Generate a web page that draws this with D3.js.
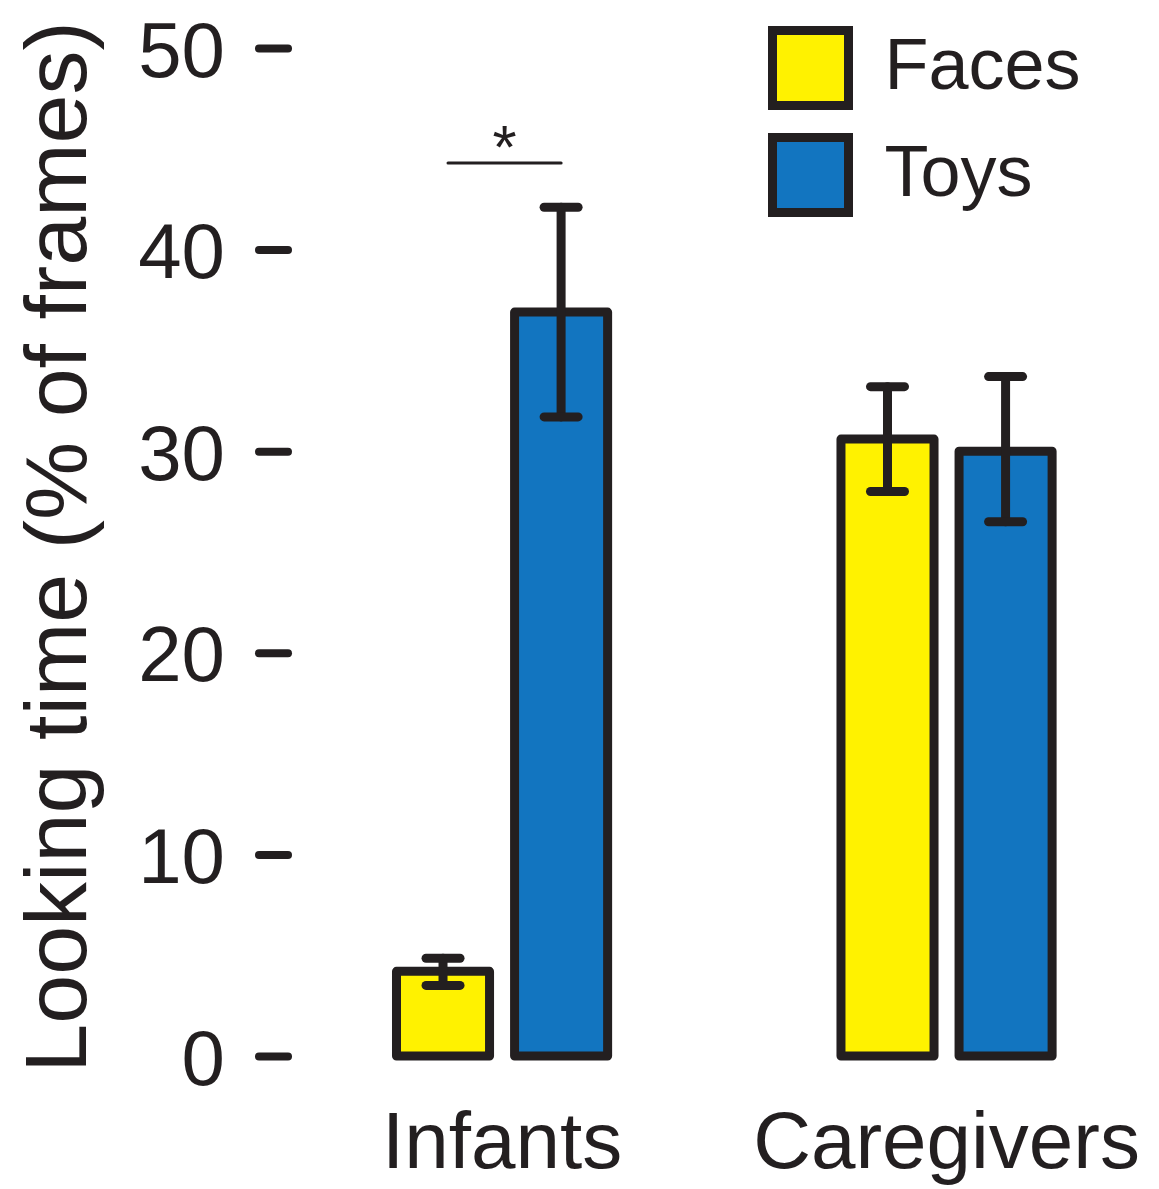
<!DOCTYPE html>
<html>
<head>
<meta charset="utf-8">
<script src="https://cdn.jsdelivr.net/npm/d3@7"></script>
<style>
  html, body { margin: 0; padding: 0; background: #fff; }
  svg { display: block; font-family: "Liberation Sans", Arial, Helvetica, sans-serif; }
</style>
</head>
<body>
<svg id="chart"></svg>
<script>
// data
var groups = ["Infants", "Caregivers"];
var series = ["Faces", "Toys"];
var facesMean = [4.2, 30.6];
var facesLow  = [3.5, 28.0];
var facesHigh = [4.85, 33.2];
var toysMean  = [36.9, 30.0];
var toysLow   = [31.7, 26.5];
var toysHigh  = [42.1, 33.7];
var yTicks = [0, 10, 20, 30, 40, 50];
var sigLevel = 44.3;   // height of the "*" bracket (Infants)

var width = 1159,
    height = 1189;
var ink = "#231f20";
var colors = { Faces: "#fff200", Toys: "#1275c0" };

var svg = d3.select("#chart")
  .attr("width", width)
  .attr("height", height);

// rows for every bar
var rows = [];
groups.forEach(function (g, i) {
  rows.push({ group: g, key: "Faces", mean: facesMean[i], lo: facesLow[i], hi: facesHigh[i] });
  rows.push({ group: g, key: "Toys", mean: toysMean[i], lo: toysLow[i], hi: toysHigh[i] });
});

// scales
var y = d3.scaleLinear().domain([0, 50]).range([1056, 48]);

var x0 = d3.scaleBand()
  .domain(groups)
  .range([307.6, 1141])
  .paddingInner(0.525)
  .paddingOuter(0.2);

var x1 = d3.scaleBand()
  .domain(series)
  .range([0, x0.bandwidth()])
  .paddingInner(0.212)
  .paddingOuter(0);

// y axis (no domain line, short rounded dashes)
var yAxis = svg.append("g")
  .attr("transform", "translate(288,0)")
  .call(d3.axisLeft(y).tickValues(yTicks).tickSize(29).tickPadding(34));

yAxis.select(".domain").remove();
yAxis.selectAll(".tick line")
  .attr("stroke", ink)
  .attr("stroke-width", 8)
  .attr("stroke-linecap", "round");
yAxis.selectAll(".tick text")
  .attr("fill", ink)
  .attr("dy", "0.36em")
  .style("font-size", "78px")
  .style("font-family", "'Liberation Sans', Arial, sans-serif");

// y label
svg.append("text")
  .attr("transform", "translate(86,547) rotate(-90)")
  .attr("text-anchor", "middle")
  .attr("fill", ink)
  .style("font-size", "88px")
  .text("Looking time (% of frames)");

// bars
var barX = function (d) { return x0(d.group) + x1(d.key); };

svg.append("g").selectAll("rect")
  .data(rows)
  .enter()
  .append("rect")
    .attr("x", barX)
    .attr("y", function (d) { return y(d.mean); })
    .attr("width", x1.bandwidth())
    .attr("height", function (d) { return y(0) - y(d.mean); })
    .attr("fill", function (d) { return colors[d.key]; })
    .attr("stroke", ink)
    .attr("stroke-width", 9)
    .attr("stroke-linejoin", "round");

// error bars, drawn over the bars
var err = svg.append("g")
  .attr("stroke", ink)
  .attr("stroke-width", 9)
  .attr("stroke-linecap", "round")
  .selectAll("g")
  .data(rows)
  .enter()
  .append("g")
    .attr("transform", function (d) { return "translate(" + (barX(d) + x1.bandwidth() / 2) + ",0)"; });

err.append("line")
  .attr("y1", function (d) { return y(d.lo); })
  .attr("y2", function (d) { return y(d.hi); });
err.append("line")
  .attr("x1", -17).attr("x2", 17)
  .attr("y1", function (d) { return y(d.hi); })
  .attr("y2", function (d) { return y(d.hi); });
err.append("line")
  .attr("x1", -17).attr("x2", 17)
  .attr("y1", function (d) { return y(d.lo); })
  .attr("y2", function (d) { return y(d.lo); });

// significance bracket for infants
var sx1 = x0("Infants") + x1("Faces") + x1.bandwidth() / 2 + 5;
var sx2 = x0("Infants") + x1("Toys") + x1.bandwidth() / 2;
svg.append("line")
  .attr("x1", sx1).attr("x2", sx2)
  .attr("y1", y(sigLevel)).attr("y2", y(sigLevel))
  .attr("stroke", ink)
  .attr("stroke-width", 3)
  .attr("stroke-linecap", "round");
svg.append("text")
  .attr("x", (sx1 + sx2) / 2)
  .attr("y", y(sigLevel) + 5)
  .attr("text-anchor", "middle")
  .attr("fill", ink)
  .style("font-size", "62px")
  .text("*");

// group labels
svg.append("g").selectAll("text")
  .data(groups)
  .enter()
  .append("text")
    .attr("x", function (d) { return x0(d) + x0.bandwidth() / 2; })
    .attr("y", 1168)
    .attr("text-anchor", "middle")
    .attr("fill", ink)
    .style("font-size", "80px")
    .text(function (d) { return d; });

// legend
var legend = svg.append("g").selectAll("g")
  .data(series)
  .enter()
  .append("g")
    .attr("transform", function (d, i) { return "translate(772.5," + (30.5 + i * 107) + ")"; });

legend.append("rect")
  .attr("width", 76)
  .attr("height", 75)
  .attr("fill", function (d) { return colors[d]; })
  .attr("stroke", ink)
  .attr("stroke-width", 9);

legend.append("text")
  .attr("x", 112)
  .attr("y", 58)
  .attr("fill", ink)
  .style("font-size", "72px")
  .text(function (d) { return d; });
</script>
</body>
</html>
